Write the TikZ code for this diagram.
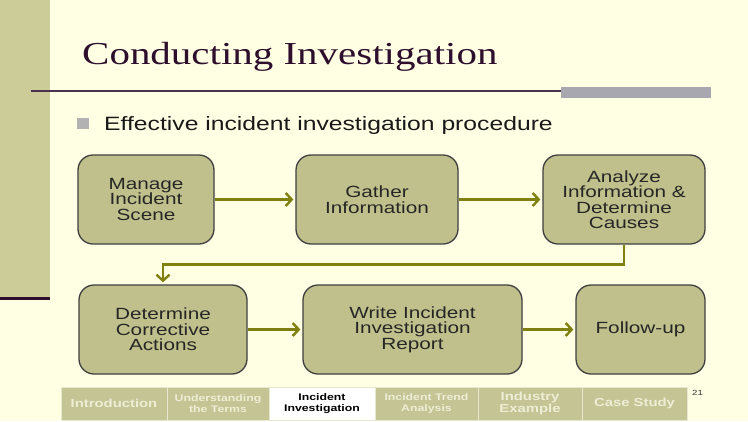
\documentclass[tikz,border=0pt]{standalone}
\usepackage{fontspec}
\setmainfont[FakeStretch=1.28]{Liberation Serif}
\setsansfont[FakeStretch=1.28]{Liberation Sans}
\usetikzlibrary{arrows.meta}
\usetikzlibrary{backgrounds}
\definecolor{bg}{RGB}{255,255,228}
\definecolor{side}{RGB}{204,204,153}
\definecolor{titlecol}{RGB}{45,14,45}
\definecolor{barcol}{RGB}{168,167,176}
\definecolor{boxfill}{RGB}{192,192,140}
\definecolor{arcol}{RGB}{128,128,16}
\definecolor{tabfill}{RGB}{196,196,148}
\definecolor{tabtext}{RGB}{238,238,214}
\definecolor{tabline}{RGB}{232,232,206}
\tikzset{bx/.style={draw=black!75,line width=1.3pt,fill=boxfill,rounded corners=15pt,
  align=center,text=black!85,inner sep=0pt,minimum height=89pt,
  font=\sffamily\fontsize{16.2}{15.5}\selectfont}}
\tikzset{ar/.style={draw=arcol,line width=2.6pt,shorten >=2pt,
  -{Straight Barb[length=6pt,width=13pt,line width=2.4pt]}}}
\tikzset{tb/.style={draw=tabline,line width=1pt,fill=tabfill,minimum height=33pt,
  inner sep=0pt,align=center,text=tabtext,font=\sffamily\bfseries\fontsize{9.6}{10.5}\selectfont}}
\tikzset{tbl/.style={font=\sffamily\bfseries\fontsize{11.6}{12}\selectfont}}

\begin{document}
\begin{tikzpicture}[x=1pt,y=-1pt]
      \useasboundingbox (0,0) rectangle (748,421);
      \fill[bg] (0,0) rectangle (748,421);
      % side bar
      \fill[side] (0,0) rectangle (50,298);
      \fill[titlecol] (0,296.5) rectangle (50,299.5);
      % title
      \node[anchor=base west,inner sep=0pt,text=titlecol,
        font=\rmfamily\fontsize{32}{32}\selectfont] (title) at (82,64) {Conducting Investigation};
      \draw[titlecol!85,line width=1.3pt] (31,91) -- (561,91);
      \fill[barcol] (561,86.5) rectangle (711,97.5);
      % bullet
      \fill[black!30] (77,118) rectangle (89,129);
      \node[anchor=base west,inner sep=0pt,text=black!90,
        font=\sffamily\fontsize{19.3}{20}\selectfont] (point) at (104,130.5)
        {Effective incident investigation procedure};
      % flow boxes
      \node[bx,minimum width=136pt] (manage) at (146,199.5) {Manage\\Incident\\Scene};
      \node[bx,minimum width=162pt] (gather) at (377,199.5) {Gather\\Information};
      \node[bx,minimum width=162pt] (analyze) at (624,199.5) {Analyze\\Information \&\\Determine\\Causes};
      \node[bx,minimum width=168pt] (correct) at (163,329.5) {Determine\\Corrective\\Actions};
      \node[bx,minimum width=219pt] (report) at (412.5,329.5) {Write Incident\\Investigation\\Report};
      \node[bx,minimum width=129pt] (follow) at (640.5,329.5) {Follow-up};
      \draw[ar] (manage) -- (gather);
      \draw[ar] (gather) -- (analyze);
      \draw[ar] (analyze.south) -- ++(0,20) -| (correct.north);
      \draw[ar] (correct) -- (report);
      \draw[ar] (report) -- (follow);
      % tabs
      \node[tb,tbl,minimum width=106pt] (intro) at (114,403.5) {Introduction};
      \node[tb,minimum width=102pt] (terms) at (218,403.5) {Understanding\\the Terms};
      \node[tb,minimum width=106pt,fill=white,text=black] (invest) at (322,403.5) {Incident\\Investigation};
      \node[tb,minimum width=103pt] (trend) at (426.5,403.5) {Incident Trend\\Analysis};
      \node[tb,tbl,minimum width=104pt] (industry) at (530,403.5) {Industry\\Example};
      \node[tb,tbl,minimum width=105pt] (case) at (634.5,403.5) {Case Study};
      \node[anchor=base west,inner sep=0pt,text=black!80,
        font=\sffamily\fontsize{7.5}{8}\selectfont] (page) at (692,395) {21};
    \end{tikzpicture}
\end{document}
